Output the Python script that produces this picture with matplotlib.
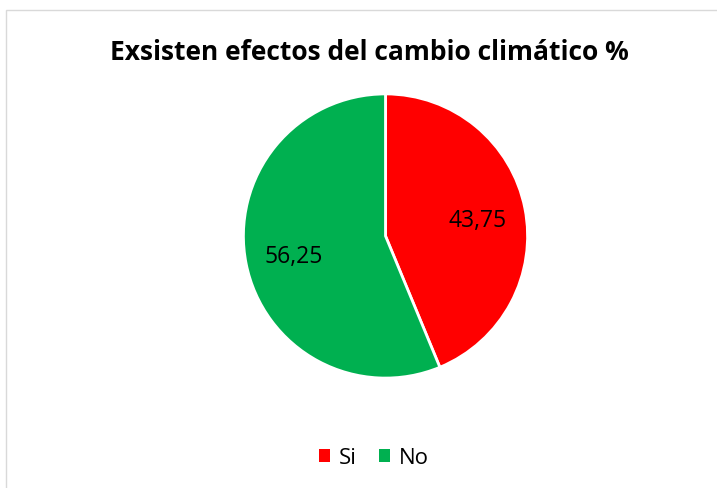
import matplotlib.pyplot as plt
import numpy as np
from matplotlib.patches import Rectangle, Patch

labels = ['Si', 'No']
values = [43.75, 56.25]
colors = ['#FF0000', '#00B050']
value_text = ['43,75', '56,25']

W, H = 717, 488
fig = plt.figure(figsize=(W / 100, H / 100), dpi=100)
fig.patch.set_facecolor('white')

# chart area border
fig.add_artist(Rectangle((6 / W, -0.1), 1.2, 1 - 10 / H + 0.1, transform=fig.transFigure,
                         fill=False, edgecolor='#D9D9D9', linewidth=1))

cx, cy, r = 385.5, 236, 143.5
ax = fig.add_axes([(cx - r) / W, (H - cy - r) / H, 2 * r / W, 2 * r / H])
wedges, texts = ax.pie(values, colors=colors, startangle=90, counterclock=False,
                       wedgeprops=dict(edgecolor='white', linewidth=2))
ax.set_xlim(-1.01, 1.01)
ax.set_ylim(-1.01, 1.01)

# data labels
ang = 90
for v, t in zip(values, value_text):
    mid = np.deg2rad(ang - v * 3.6 / 2)
    ang -= v * 3.6
    ax.text(0.66 * np.cos(mid), 0.66 * np.sin(mid) - 0.02, t, ha='center', va='center',
            fontsize=16.5, family='Open Sans', color='black')

fig.text(369 / W, 1 - 52 / H, 'Exsisten efectos del cambio climático %', ha='center', va='center',
         fontsize=19, fontweight='bold', family='Open Sans')

handles = [Patch(facecolor=c, edgecolor='none') for c in colors]
fig.legend(handles, labels, loc='center', bbox_to_anchor=(374 / W, 1 - 458 / H), ncol=2,
           frameon=False, prop={'family': 'Open Sans', 'size': 16},
           handlelength=0.5, handleheight=0.5, handletextpad=0.4, columnspacing=1.0)

fig.savefig('out.png', dpi=100)
